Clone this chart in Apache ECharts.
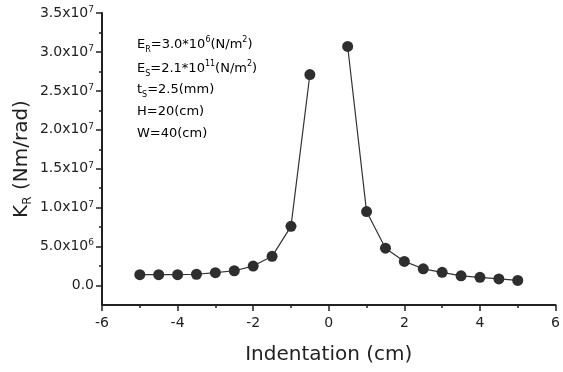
<!DOCTYPE html>
<html>
<head>
<meta charset="utf-8">
<script src="https://cdn.jsdelivr.net/npm/echarts@6/dist/echarts.min.js"></script>
<style>
  html, body { margin: 0; padding: 0; background: #fff; }
  #chart { width: 563px; height: 372px; }
</style>
</head>
<body>
<div id="chart"></div>
<script>
// indentation (cm) and stiffness K_R (Nm/rad), left and right of the gap
const xLeft = [-5, -4.5, -4, -3.5, -3, -2.5, -2, -1.5, -1, -0.5];
const kLeft = [1.4e6, 1.4e6, 1.4e6, 1.45e6, 1.65e6, 1.9e6, 2.5e6, 3.75e6, 7.6e6, 2.71e7];
const xRight = [0.5, 1, 1.5, 2, 2.5, 3, 3.5, 4, 4.5, 5];
const kRight = [3.07e7, 9.5e6, 4.8e6, 3.1e6, 2.15e6, 1.7e6, 1.25e6, 1.05e6, 0.85e6, 0.65e6];

const yMajorTicks = [0, 5e6, 1e7, 1.5e7, 2e7, 2.5e7, 3e7, 3.5e7];
const yMinorTicks = [2.5e6, 7.5e6, 1.25e7, 1.75e7, 2.25e7, 2.75e7, 3.25e7];

const notes = [
  '{t|E}{sub|R}{t|=3.0*10}{sup|6}{t|(N/m}{sup|2}{t|)}',
  '{t|E}{sub|S}{t|=2.1*10}{sup|11}{t|(N/m}{sup|2}{t|)}',
  '{t|t}{sub|S}{t|=2.5(mm)}',
  '{t|H=20(cm)}',
  '{t|W=40(cm)}'
];
const noteY = [45, 69, 92, 114, 136];

(function () {
  const chart = echarts.init(document.getElementById('chart'));
  const font = 'DejaVu Sans';
  const ink = '#222';

  const fmtY = v => {
    if (v === 0) return '{a|0.0}';
    const e = Math.floor(Math.log10(v) + 1e-9);
    const m = (v / Math.pow(10, e)).toFixed(1);
    return '{a|' + m + 'x10}{s|' + e + '}';
  };

  const noteRich = {
    t: { fontFamily: font, fontSize: 13, color: ink, lineHeight: 18 },
    sub: { fontFamily: font, fontSize: 8, color: ink, verticalAlign: 'bottom', lineHeight: 12 },
    sup: { fontFamily: font, fontSize: 8, color: ink, verticalAlign: 'top', lineHeight: 18 }
  };

  const lineStyle = { color: '#333', width: 1.2 };
  const itemStyle = { color: '#2e2e2e' };

  chart.setOption({
    animation: false,
    backgroundColor: '#fff',
    grid: { left: 102, right: 5, top: 13, bottom: 67 },
    xAxis: {
      type: 'value',
      min: -6,
      max: 6,
      interval: 2,
      splitLine: { show: false },
      axisLine: { onZero: false, lineStyle: { color: ink, width: 2 } },
      axisTick: { inside: false, length: 6, lineStyle: { color: ink, width: 1.5 } },
      minorTick: { show: true, splitNumber: 2, length: 3, lineStyle: { color: ink, width: 1.5 } },
      axisLabel: { fontFamily: font, fontSize: 14, color: ink, margin: 11 },
      name: 'Indentation (cm)',
      nameLocation: 'middle',
      nameGap: 40,
      nameTextStyle: { fontFamily: font, fontSize: 20, color: ink }
    },
    yAxis: [
      {
        type: 'value',
        min: -2.5e6,
        max: 3.5e7,
        splitLine: { show: false },
        axisLine: { onZero: false, lineStyle: { color: ink, width: 2 } },
        axisTick: { length: 6, customValues: yMajorTicks, lineStyle: { color: ink, width: 1.5 } },
        axisLabel: {
          customValues: yMajorTicks,
          formatter: fmtY,
          margin: 8,
          rich: {
            a: { fontFamily: font, fontSize: 14, color: ink, lineHeight: 16 },
            s: { fontFamily: font, fontSize: 9, color: ink, verticalAlign: 'top', lineHeight: 16 }
          }
        },
        name: '{k|K}{r|R}{k| (Nm/rad)}',
        nameLocation: 'middle',
        nameRotate: 90,
        nameGap: 68,
        nameMoveOverlap: false,
        nameTextStyle: {
          rich: {
            k: { fontFamily: font, fontSize: 20, color: ink, lineHeight: 24 },
            r: { fontFamily: font, fontSize: 12, color: ink, verticalAlign: 'bottom', lineHeight: 16 }
          }
        }
      },
      {
        type: 'value',
        min: -2.5e6,
        max: 3.5e7,
        position: 'left',
        splitLine: { show: false },
        axisLine: { show: false, onZero: false },
        axisTick: { length: 3, customValues: yMinorTicks, lineStyle: { color: ink, width: 1.5 } },
        axisLabel: { show: false }
      }
    ],
    graphic: notes.map((txt, i) => ({
      type: 'text',
      left: 137,
      top: noteY[i] - 9,
      style: { text: txt, rich: noteRich }
    })),
    series: [
      {
        type: 'line',
        data: xLeft.map((x, i) => [x, kLeft[i]]),
        symbol: 'circle',
        symbolSize: 11,
        lineStyle: lineStyle,
        itemStyle: itemStyle
      },
      {
        type: 'line',
        data: xRight.map((x, i) => [x, kRight[i]]),
        symbol: 'circle',
        symbolSize: 11,
        lineStyle: lineStyle,
        itemStyle: itemStyle
      }
    ]
  });

  window.addEventListener('resize', () => chart.resize());
})();
</script>
</body>
</html>
